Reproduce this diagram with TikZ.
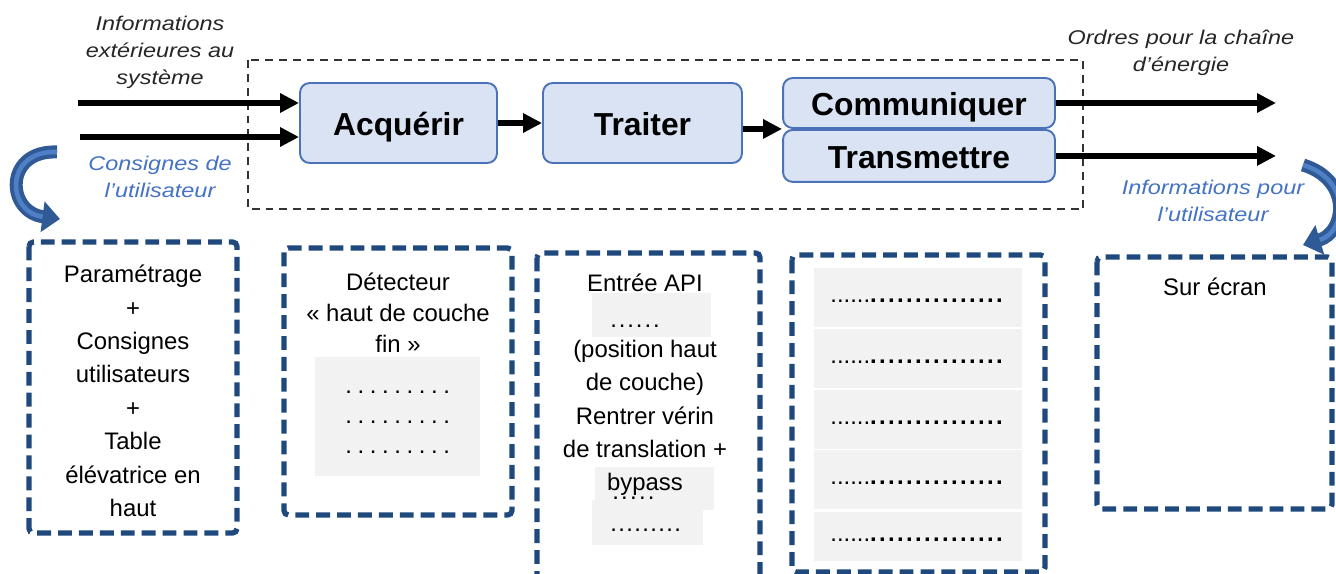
\documentclass[tikz,border=0pt]{standalone}
\usepackage{fontspec}
\setmainfont{Liberation Sans}
\newfontfamily\etiqfont[FakeStretch=1.18]{Liberation Sans}
\usetikzlibrary{positioning,arrows.meta,calc}

\definecolor{blocfond}{HTML}{DAE3F3}
\definecolor{blocbord}{HTML}{4A72B8}
\definecolor{bleuclair}{HTML}{4472C4}
\definecolor{bleufonce}{HTML}{1F497D}
\definecolor{bleucourbe}{HTML}{2F5A96}
\definecolor{bleuvif}{HTML}{4F7FC4}
\definecolor{grisfond}{HTML}{F2F2F2}

% rangée de points espacés
\newcommand{\pointilles}[2]{\foreach \k in {1,...,#1}{.\hspace{#2}}}

\begin{document}
\begin{tikzpicture}[
  x=0.02cm, y=-0.02cm,
  bloc/.style={draw=blocbord,fill=blocfond,line width=1.1pt,
    rounded corners=5.5pt,inner sep=0pt,text height=14.5pt,text depth=0pt,
    font=\bfseries\fontsize{18.1}{21}\selectfont},
  fleche/.style={line width=3.3pt,-{Triangle[length=10.8pt,width=10.5pt]}},
  etiquette/.style={font=\etiqfont\itshape\fontsize{11.3}{15.3}\selectfont,
    align=center,text=black!85},
  consigne/.style={etiquette,text=bleuclair},
  cadre/.style={draw=bleufonce,line width=3pt,
    dash pattern=on 7.9pt off 4pt,rounded corners=2.5pt},
  texte/.style={font=\fontsize{13.6}{19}\selectfont,align=center},
  points/.style={anchor=west,inner sep=0pt,font=\fontsize{13.6}{19}\selectfont},
  retour/.style={draw=bleucourbe,line width=7.4pt,
    -{Triangle[length=10pt,width=17pt]},
    postaction={draw=bleuvif,line width=2.6pt,-,shorten >=10pt}}
]

\useasboundingbox (0,0) rectangle (1336,574);
\clip (0,0) rectangle (1336,574);

% ==================================================
% Chaîne d'information
% ==================================================

% frontière du système
\draw[black!80,line width=1.1pt,dash pattern=on 4.5pt off 3.4pt]
  (248,60) rectangle (1083,209);

% blocs fonctionnels
\node[bloc,minimum width=3.94cm,minimum height=1.6cm]
  (acq) at (398.5,123) {Acquérir};
\node[bloc,minimum width=3.98cm,minimum height=1.6cm]
  (trait) at (642.5,123) {Traiter};
\node[bloc,minimum width=5.44cm,minimum height=1.0cm]
  (comm) at (919,103) {Communiquer};
\node[bloc,minimum width=5.44cm,minimum height=1.04cm,below=0pt of comm]
  (trans) {Transmettre};

% entrées et sorties
\coordinate (in1) at (78,103);
\coordinate (in2) at (80,137);
\coordinate (out) at (1276,0);

\draw[fleche] (in1) -- (in1 -| acq.west);
\draw[fleche] (in2) -- (in2 -| acq.west);
\draw[fleche] (acq.east) -- (trait.west);
\draw[fleche] (trait.east |- comm.south west) -- (comm.south west);
\draw[fleche] (comm.east) -- (comm.east -| out);
\draw[fleche] (trans.east) -- (trans.east -| out);

% étiquettes des flux
\node[etiquette] (ext) at (160,52)
  {Informations\\extérieures au\\système};
\node[consigne] (cons) at (160,177)
  {Consignes de\\l’utilisateur};
\node[etiquette] (ordres) at (1181,53)
  {Ordres pour la chaîne\\d’énergie};
\node[consigne] (infos) at (1213,201)
  {Informations pour\\l’utilisateur};

% flèches courbes vers les cadres
\draw[retour] (57,152) .. controls (4,150) and (6,212) .. (60,219);
\draw[retour] (1303,165) .. controls (1352,180) and (1346,232) .. (1303,245);

% ==================================================
% Cadres de réponse
% ==================================================

% cadre 1
\draw[cadre] (29,242) rectangle (237,533);
\node[texte] (param) at (133,391)
  {Paramétrage\\+\\Consignes\\utilisateurs\\+\\Table\\élévatrice en\\haut};

% cadre 2
\draw[cadre] (284,248) rectangle (512,515);
\fill[grisfond] (315,357) rectangle (480,476);
\node[texte,font=\fontsize{13.6}{17.6}\selectfont] (detect) at (398,313)
  {Détecteur\\« haut de couche\\fin »};
\foreach \y in {392,422,452}
  \node[points] at (345,\y) {\pointilles{9}{0.112cm}};

% cadre 3
\draw[cadre] (537,253) rectangle (760,600);
\fill[grisfond] (592,293) rectangle (711,337);
\node[points] at (610,326) {\pointilles{6}{0.038cm}};
\fill[grisfond] (595,467) rectangle (714,510);
\node[points] at (612,498) {\pointilles{5}{0.045cm}};
\fill[grisfond] (592,500) rectangle (703,545);
\node[points] at (610,530) {\pointilles{9}{0.027cm}};
\node[texte] (api) at (645,283) {Entrée API};
\node[texte] (verin) at (645,418)
  {(position haut\\de couche)\\Rentrer vérin\\de translation +\\bypass};

% cadre 4
\draw[cadre] (792,255) rectangle (1045,572);
\foreach \ya/\yb in {268/327,329/388,390/449,450/509,512/561}{
  \fill[grisfond] (814,\ya) rectangle (1022,\yb);
  \node[points] at (830,{(\ya+\yb)/2+3})
    {\pointilles{6}{0pt}\textbf{\pointilles{15}{0.047cm}}};
}

% cadre 5
\draw[cadre] (1097,257) rectangle (1332,509);
\node[texte] (ecran) at (1215,287) {Sur écran};

\end{tikzpicture}
\end{document}
